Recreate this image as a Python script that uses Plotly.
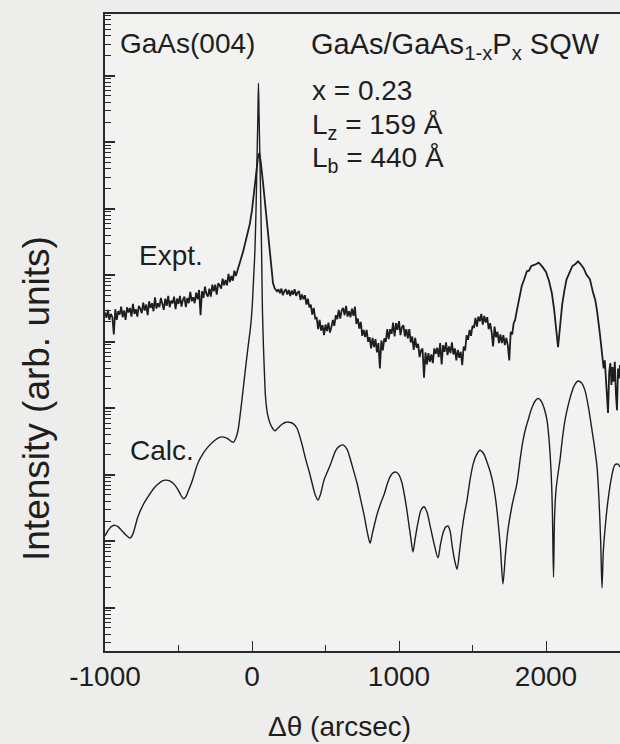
import numpy as np
import plotly.graph_objects as go

# ---------------- data (log10 of intensity, arb. units) ----------------
# Expt. scan: noisy left wing, sampled every 10 arcsec
expt_x_left = list(range(-1000, -100, 10))
expt_log_left = [4.44, 4.36, 4.48, 4.33, 4.42, 4.37, 4.11, 4.49, 4.33, 4.46,
                 4.41, 4.53, 4.37, 4.47, 4.33, 4.52, 4.44, 4.51, 4.38, 4.57,
                 4.42, 4.49, 4.38, 4.54, 4.50, 4.43, 4.59, 4.47, 4.56, 4.40,
                 4.61, 4.51, 4.58, 4.46, 4.67, 4.50, 4.58, 4.52, 4.66, 4.56,
                 4.48, 4.65, 4.54, 4.69, 4.52, 4.62, 4.58, 4.68, 4.49, 4.65,
                 4.57, 4.69, 4.53, 4.63, 4.68, 4.52, 4.66, 4.58, 4.75, 4.61,
                 4.67, 4.58, 4.74, 4.64, 4.78, 4.40, 4.76, 4.66, 4.83, 4.72,
                 4.68, 4.80, 4.68, 4.86, 4.76, 4.86, 4.71, 4.88, 4.85, 4.80,
                 4.95, 4.85, 4.93, 4.85, 5.02, 4.90, 4.99, 4.92, 5.07, 4.99]
# substrate peak
expt_x_peak = [-100, -82, -60, -34, -15, 0, 20, 41, 50, 60, 75, 88, 102, 112, 122, 132, 143, 155, 170]
expt_log_peak = [5.06, 5.20, 5.36, 5.60, 5.77, 5.98, 6.39, 6.78, 6.84, 6.70, 6.39, 6.10, 5.83,
                 5.58, 5.33, 5.10, 4.88, 4.80, 4.76]
# noisy middle part, every 10 arcsec
expt_x_mid = list(range(180, 1800, 10))
expt_log_mid = [4.79, 4.73, 4.80, 4.70, 4.76, 4.79, 4.71, 4.78, 4.69, 4.77,
                4.71, 4.79, 4.69, 4.74, 4.76, 4.63, 4.71, 4.64, 4.70, 4.56,
                4.65, 4.52, 4.56, 4.41, 4.51, 4.35, 4.36, 4.19, 4.33, 4.17,
                4.25, 4.10, 4.26, 4.16, 4.29, 4.14, 4.22, 4.33, 4.24, 4.40,
                4.34, 4.48, 4.35, 4.47, 4.51, 4.40, 4.54, 4.38, 4.46, 4.37,
                4.50, 4.39, 4.53, 4.27, 4.35, 4.20, 4.30, 4.09, 4.18, 4.07,
                4.18, 4.00, 4.07, 3.90, 4.06, 3.92, 4.04, 3.84, 3.98, 3.60,
                4.02, 3.87, 4.05, 4.00, 4.19, 4.04, 4.19, 4.12, 4.29, 4.08,
                4.28, 4.18, 4.31, 4.10, 4.22, 4.25, 4.08, 4.19, 4.05, 4.19,
                3.99, 4.08, 3.88, 4.06, 3.91, 3.97, 3.77, 3.87, 3.90, 3.46,
                3.84, 3.66, 3.83, 3.70, 3.81, 3.68, 3.90, 3.82, 3.91, 3.77,
                3.98, 3.66, 3.95, 3.85, 3.99, 3.80, 3.93, 3.83, 3.99, 3.81,
                3.90, 3.72, 3.88, 3.76, 3.85, 3.65, 3.93, 3.87, 4.10, 4.03,
                4.18, 4.09, 4.24, 4.21, 4.36, 4.23, 4.38, 4.31, 4.42, 4.26,
                4.39, 4.29, 4.37, 4.19, 4.28, 4.15, 3.93, 4.23, 4.07, 4.15,
                3.98, 4.11, 3.98, 4.10, 3.95, 4.06, 3.95, 3.72, 4.15, 4.11,
                4.28, 4.33]
# layer fringes (clean)
expt_x_fringe = [1800, 1816, 1835, 1850, 1870, 1884, 1900, 1925, 1950, 1975, 2000, 2020, 2040,
                 2055, 2068, 2076, 2082, 2088, 2095, 2110, 2125, 2140, 2160, 2180, 2200, 2218,
                 2235, 2255, 2275, 2299, 2320, 2335, 2347]
expt_log_fringe = [4.45, 4.63, 4.84, 4.93, 5.06, 5.07, 5.14, 5.16, 5.19, 5.13, 5.05, 4.92, 4.73,
                   4.49, 4.22, 4.00, 3.92, 4.06, 4.24, 4.56, 4.77, 4.94, 5.04, 5.14, 5.17, 5.21,
                   5.17, 5.11, 5.01, 4.94, 4.74, 4.63, 4.47]
# noisy right end
expt_x_right = [2355, 2365, 2375, 2385, 2392, 2400, 2408, 2415, 2422, 2430, 2438, 2445, 2452,
                2460, 2468, 2476, 2483, 2490, 2497, 2503]
expt_log_right = [4.35, 4.15, 3.95, 3.78, 3.60, 3.72, 3.45, 3.22, 2.93, 3.55, 3.68, 3.35, 3.62,
                  3.40, 3.70, 3.20, 2.97, 3.60, 3.45, 3.65]

calc_x = [-1000, -988, -970, -950, -932, -912, -890, -860, -840, -827, -812, -800, -776, -740,
          -707, -670, -639, -610, -585, -560, -535, -510, -490, -475, -463, -450, -435, -408,
          -367, -330, -299, -252, -225, -204, -180, -163, -140, -126, -110, -95, -78, -61, -44,
          -27, -10, 0, 12, 20, 28, 34, 40, 44, 48, 54, 60, 65, 71, 78, 85, 92, 105, 122, 140,
          156, 175, 204, 230, 252, 280, 306, 335, 367, 390, 408, 430, 449, 465, 490, 510, 531,
          571, 595, 619, 645, 667, 690, 714, 740, 762, 785, 803, 820, 850, 875, 898, 920, 939,
          960, 980, 1000, 1020, 1034, 1050, 1068, 1082, 1095, 1110, 1129, 1150, 1170, 1190,
          1211, 1240, 1265, 1282, 1299, 1316, 1333, 1348, 1361, 1378, 1395, 1412, 1429, 1446,
          1463, 1483, 1503, 1527, 1551, 1575, 1599, 1620, 1639, 1658, 1673, 1690, 1707, 1724,
          1741, 1770, 1803, 1825, 1844, 1862, 1878, 1895, 1912, 1930, 1946, 1963, 1980, 1995,
          2007, 2020, 2034, 2043, 2051, 2058, 2068, 2082, 2095, 2112, 2129, 2146, 2163, 2190,
          2218, 2242, 2265, 2290, 2313, 2330, 2347, 2360, 2372, 2381, 2390, 2401, 2422, 2449,
          2469, 2490, 2503]
calc_log = [1.08, 1.13, 1.19, 1.23, 1.24, 1.22, 1.17, 1.10, 1.06, 1.05, 1.10, 1.18, 1.37, 1.55,
            1.67, 1.79, 1.86, 1.91, 1.92, 1.91, 1.87, 1.80, 1.72, 1.66, 1.64, 1.67, 1.75, 1.90,
            2.18, 2.33, 2.42, 2.52, 2.56, 2.57, 2.56, 2.54, 2.50, 2.49, 2.55, 2.67, 2.95, 3.27,
            3.60, 3.92, 4.22, 4.48, 5.00, 5.38, 6.05, 6.73, 7.40, 7.89, 7.40, 6.73, 6.05, 5.38,
            4.48, 3.92, 3.50, 3.17, 2.92, 2.78, 2.70, 2.66, 2.70, 2.76, 2.79, 2.79, 2.77, 2.70,
            2.50, 2.22, 2.04, 1.88, 1.70, 1.62, 1.70, 1.92, 2.03, 2.14, 2.37, 2.43, 2.45, 2.39,
            2.25, 2.07, 1.88, 1.62, 1.40, 1.13, 0.97, 1.13, 1.40, 1.57, 1.70, 1.86, 1.97, 2.03,
            2.04, 2.00, 1.88, 1.73, 1.52, 1.24, 1.02, 0.84, 1.04, 1.28, 1.47, 1.52, 1.44, 1.24,
            0.95, 0.75, 0.95, 1.12, 1.21, 1.23, 1.15, 0.94, 0.72, 0.58, 0.85, 1.17, 1.42, 1.62,
            1.92, 2.15, 2.30, 2.37, 2.32, 2.19, 2.05, 1.88, 1.62, 1.32, 0.90, 0.36, 0.80, 1.17,
            1.55, 1.88, 2.25, 2.52, 2.70, 2.82, 2.95, 3.05, 3.12, 3.15, 3.12, 3.05, 2.94, 2.82,
            2.55, 2.07, 1.50, 0.46, 1.35, 1.77, 2.02, 2.22, 2.55, 2.82, 3.00, 3.15, 3.33, 3.41,
            3.38, 3.27, 3.00, 2.67, 2.42, 2.12, 1.65, 1.00, 0.30, 0.85, 1.17, 1.62, 2.00, 2.15,
            2.16, 2.12]

x_major = [-1000, 0, 1000, 2000]
x_major_text = ["-1000", "0", "1000", "2000"]
x_minor = [-500, 500, 1500]
y_decades = list(range(0, 9))          # log10 positions of the long ticks
y_mantissas = list(range(2, 10))       # 2..9 within each decade (short ticks)

expt_x = expt_x_left + expt_x_peak + expt_x_mid + expt_x_fringe + expt_x_right
expt_log = expt_log_left + expt_log_peak + expt_log_mid + expt_log_fringe + expt_log_right
assert len(expt_x) == len(expt_log)
assert len(calc_x) == len(calc_log)

# ---------------- figure ----------------
INK = "#1e1e1e"
AX = "#2a2a2a"
FONT = "Liberation Sans, Arial, Helvetica, sans-serif"
W, H = 620, 744
L, R, T, B = 105, 0, 14, 93
pw, ph = W - L - R, H - T - B
YR = [-0.65, 8.93]   # log10(intensity) range


def px(x):
    return (x - L) / pw


def py(y):
    return (H - B - y) / ph


fig = go.Figure()
# y axis carries log10(intensity) on a linear scale == logarithmic intensity axis
fig.add_trace(go.Scatter(x=expt_x, y=expt_log, mode="lines",
                         line=dict(color=INK, width=1.8), showlegend=False, hoverinfo="skip"))
fig.add_trace(go.Scatter(x=calc_x, y=calc_log, mode="lines",
                         line=dict(color=INK, width=1.4, shape="spline", smoothing=0.8),
                         showlegend=False, hoverinfo="skip"))

major_pos = [float(d) for d in y_decades]
minor_pos = [d + float(np.log10(m)) for d in range(-1, 9) for m in y_mantissas]

fig.update_layout(
    xaxis=dict(range=[-1000, -1000 + pw / 0.147], showline=True, linecolor=AX,
               linewidth=1.6, mirror=True, showgrid=False, zeroline=False,
               tickmode="array", tickvals=x_major, ticktext=x_major_text,
               ticks="inside", ticklen=10, tickwidth=1.4, tickcolor=AX,
               tickfont=dict(family=FONT, size=28, color=INK),
               minor=dict(tickmode="array", tickvals=x_minor, ticks="inside", ticklen=6,
                          tickwidth=1.2, tickcolor=AX)),
    yaxis=dict(range=YR, showline=True, linecolor=AX,
               linewidth=1.6, mirror=False, showgrid=False, zeroline=False,
               tickmode="array", tickvals=major_pos, showticklabels=False,
               ticks="inside", ticklen=10, tickwidth=1.5, tickcolor=AX,
               minor=dict(tickmode="array", tickvals=minor_pos, ticks="inside", ticklen=6,
                          tickwidth=1.2, tickcolor=AX)),
)

anns = [
    ("GaAs(004)", 118, 44, 28),
    ("GaAs/GaAs<sub>1-x</sub>P<sub>x</sub>\u00a0SQW", 309, 46, 29),
    ("x = 0.23", 310, 90, 28),
    ("L<sub>z</sub> = 159 Å", 310, 126, 28),
    ("L<sub>b</sub> = 440 Å", 310, 160, 28),
    ("Expt.", 137, 255, 28),
    ("Calc.", 128, 450, 28),
]
for text, x, y, s in anns:
    fig.add_annotation(text=text, x=px(x), y=py(y), xref="paper", yref="paper",
                       xanchor="left", yanchor="middle", showarrow=False,
                       font=dict(family=FONT, size=s, color=INK))

fig.add_annotation(text="Intensity (arb. units)", x=px(36), y=py(399), xref="paper",
                   yref="paper", xanchor="center", yanchor="middle", showarrow=False,
                   textangle=-90, font=dict(family=FONT, size=37, color=INK))
fig.add_annotation(text="Δθ (arcsec)", x=px(339), y=py(726), xref="paper", yref="paper",
                   xanchor="center", yanchor="middle", showarrow=False,
                   font=dict(family=FONT, size=28, color=INK))

fig.update_layout(width=W, height=H, margin=dict(l=L, r=R, t=T, b=B, pad=0),
                  paper_bgcolor="#ededeb", plot_bgcolor="#f2f2f0")

fig.write_html("out.html", config={"displayModeBar": False},
               post_script="document.body.style.margin='0';")
